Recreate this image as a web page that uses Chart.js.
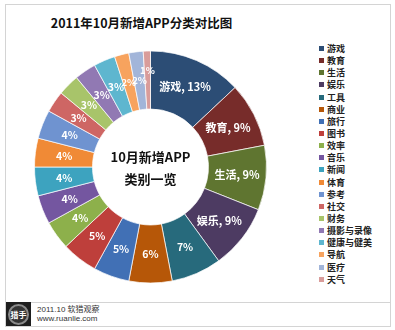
<!DOCTYPE html>
<html>
<head>
<meta charset="utf-8">
<script src="https://cdn.jsdelivr.net/npm/chart.js@4"></script>
<style>
    body { margin: 0; background: #fff; font-family: "Noto Sans CJK SC", sans-serif; }
    #frame { position: absolute; left: 5px; top: 4px; width: 384px; height: 297px; border: 1px solid #d4d4d4; }
    #footer { position: absolute; left: 5px; top: 302px; width: 384px; height: 24px; border: 1px solid #d4d4d4; border-top: none; }
    #title { position: absolute; left: 0; top: 13px; width: 283px; text-align: center; font-size: 12.5px; font-weight: bold; color: #111; }
    #chart { position: absolute; left: 6px; top: 5px; }
    #legend { position: absolute; left: 319px; top: 43px; font-size: 9px; font-weight: bold; color: #222; }
    #legend div { height: 12.15px; line-height: 12.15px; white-space: nowrap; }
    #legend span { display: inline-block; width: 5px; height: 5px; margin-right: 3px; vertical-align: 1px; }
    #logo { position: absolute; left: 0; top: 0; width: 25px; height: 24px; background: #1e1e1e; }
    #logo div { position: absolute; left: 2px; top: 2px; width: 17px; height: 17px; border-radius: 50%; border: 2px solid #8a8a8a; background: #333; color: #fff; font-size: 8px; font-weight: bold; line-height: 17px; text-align: center; }
    #note { position: absolute; left: 31px; top: 3px; font-size: 8px; line-height: 9px; color: #333; font-family: "Liberation Sans", "Noto Sans CJK SC", sans-serif; }
</style>
</head>
<body>
<div id="frame"></div>
<div id="title">2011年10月新增APP分类对比图</div>
<canvas id="chart" width="280" height="296"></canvas>
<div id="legend"></div>
<div id="footer">
    <div id="logo"><div>猎手</div></div>
    <div id="note">2011.10 软猎观察<br>www.ruanlie.com</div>
</div>
<script>
const categories = ['游戏', '教育', '生活', '娱乐', '工具', '商业', '旅行', '图书', '效率', '音乐',
    '新闻', '体育', '参考', '社交', '财务', '摄影与录像', '健康与健美', '导航', '医疗', '天气'];
const shares = [13, 9, 9, 9, 7, 6, 5, 5, 4, 4, 4, 4, 4, 3, 3, 3, 3, 2, 2, 1];
const colors = ['#2C4D75', '#772C2A', '#5F7530', '#4D3B62', '#276A7C', '#B65708', '#4170B5', '#BE3F3B',
    '#8DB04B', '#7456A0', '#3DA3BF', '#F08A36', '#6F93D0', '#CE6664', '#A8C46A', '#9179B3',
    '#5EB6CF', '#F7A35E', '#A2B5D9', '#D99C9A'];
const namedLabels = 4; // first slices show "name, value%"
const centerLines = ['10月新增APP', '类别一览'];

// legend built from the same arrays
const legendBox = document.getElementById('legend');
categories.forEach((name, i) => {
    const row = document.createElement('div');
    row.innerHTML = `<span style="background:${colors[i]}"></span>${name}`;
    legendBox.appendChild(row);
});

const sliceLabels = {
    id: 'sliceLabels',
    afterDatasetsDraw(chart) {
        const ctx = chart.ctx;
        const meta = chart.getDatasetMeta(0);
        ctx.save();
        ctx.fillStyle = '#ffffff';
        ctx.textAlign = 'center';
        ctx.textBaseline = 'middle';
        meta.data.forEach((arc, i) => {
            let pos = arc.tooltipPosition();
            // very thin slices: push the label outward like Excel's best fit
            if (shares[i] < 2) {
                const p = arc.getProps(['x', 'y', 'startAngle', 'endAngle', 'outerRadius']);
                const mid = (p.startAngle + p.endAngle) / 2;
                const r = p.outerRadius - 19;
                pos = { x: p.x + Math.cos(mid) * r, y: p.y + Math.sin(mid) * r };
            }
            const text = i < namedLabels ? `${categories[i]}, ${shares[i]}%` : `${shares[i]}%`;
            ctx.font = i < namedLabels ? 'bold 11px "Noto Sans CJK SC", sans-serif'
                : shares[i] <= 2 ? 'bold 9.5px "Noto Sans CJK SC", sans-serif'
                : 'bold 10.5px "Noto Sans CJK SC", sans-serif';
            ctx.fillText(text, pos.x, pos.y);
        });
        ctx.restore();
    }
};

const centerText = {
    id: 'centerText',
    afterDraw(chart) {
        const ctx = chart.ctx;
        const arc = chart.getDatasetMeta(0).data[0];
        ctx.save();
        ctx.fillStyle = '#111';
        ctx.font = 'bold 13px "Noto Sans CJK SC", sans-serif';
        ctx.textAlign = 'center';
        ctx.textBaseline = 'middle';
        ctx.fillText(centerLines[0], arc.x, arc.y - 10);
        ctx.fillText(centerLines[1], arc.x, arc.y + 12);
        ctx.restore();
    }
};

new Chart(document.getElementById('chart'), {
    type: 'doughnut',
    data: {
        labels: categories,
        datasets: [{
            data: shares,
            backgroundColor: colors,
            borderColor: 'rgba(255, 255, 255, 0.7)',
            borderWidth: 1,
            hoverOffset: 0
        }]
    },
    options: {
        responsive: false,
        animation: false,
        cutout: '50%',
        layout: { padding: { left: 28, top: 45.5, right: 19, bottom: 17.5 } },
        plugins: {
            legend: { display: false },
            tooltip: { enabled: false }
        }
    },
    plugins: [sliceLabels, centerText]
});
</script>
</body>
</html>
